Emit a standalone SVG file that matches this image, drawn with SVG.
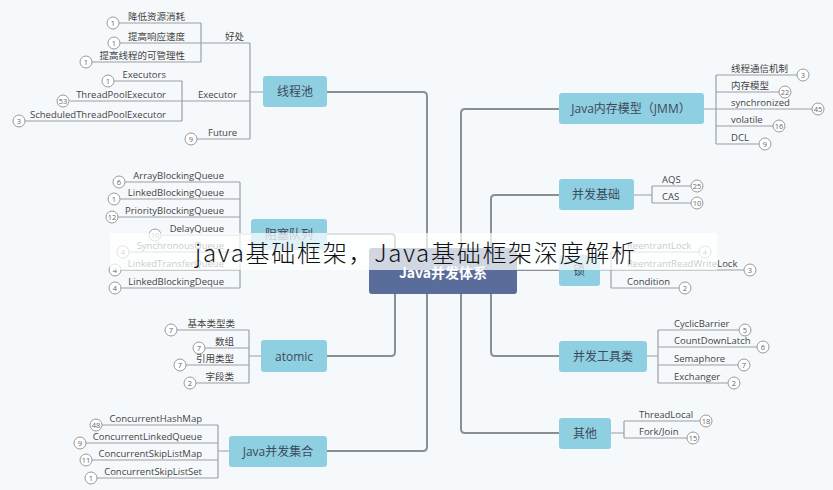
<svg xmlns="http://www.w3.org/2000/svg" width="833" height="490" viewBox="0 0 833 490">
<style>
.bg{fill:#f6f9fb}
.n rect{fill:#8fcfe2;rx:3px}
.n text{font-family:"Open Sans","Noto Sans CJK SC",sans-serif;font-size:12px;fill:#3d4a5a;text-anchor:middle}
.c{fill:none;stroke:#8a8f96;stroke-width:2}
.s{fill:none;stroke:#9aa0a6;stroke-width:1.2}
.t{font-family:"Open Sans","Noto Sans CJK SC",sans-serif;font-size:9.5px;fill:#444}
.r{text-anchor:end}
.b circle{fill:#fff;stroke:#999;stroke-width:1}
.b text{font-family:"Open Sans",sans-serif;font-size:7.5px;fill:#666;text-anchor:middle}
</style>
<rect class="bg" width="833" height="490"/>
<g id="connectors">
<path class="c" d="M327,92 H423 Q427,92 427,96 V447 Q427,451 423,451 H327"/>
<path class="c" d="M369,270 H391 Q395,270 395,274 V352 Q395,356 391,356 H327 M395,270 V238 Q395,234 391,234 H327"/>
<path class="c" d="M517,270 H559"/>
<path class="c" d="M559,109 H465 Q461,109 461,113 V429 Q461,433 465,433 H559 M461,270 H517"/>
<path class="c" d="M559,195 H495 Q491,195 491,199 V352 Q491,356 495,356 H559 M491,270 H517"/>
<!-- 线程池 children -->
<path class="s" d="M263,92 H250 M250,43 V139 M250,43 H213 M250,101 H70 M250,139 H197"/>
<path class="s" d="M213,43 H201 M201,23 V62 M201,23 H119 M201,43 H120 M201,62 H92"/>
<path class="s" d="M182,81 V121 M182,81 H114 M182,121 H25"/>
<!-- 阻塞队列 -->
<path class="s" d="M251,234 H240 M240,182 V288 M240,182 H125 M240,199 H120 M240,217 H118 M240,235 H161 M240,252 H129 M240,270 H121 M240,288 H121"/>
<!-- atomic -->
<path class="s" d="M261,356 H249 M249,330 V383 M249,330 H177 M249,348 H205 M249,365 H186 M249,383 H196"/>
<!-- 集合 -->
<path class="s" d="M229,451 H218 M218,425 V478 M218,425 H102 M218,443 H86 M218,460 H92 M218,478 H97"/>
<!-- JMM -->
<path class="s" d="M704,109 H716 M716,75 V144 M716,75 H797 M716,92 H779 M716,109 H812 M716,126 H773 M716,144 H759"/>
<!-- 并发基础 -->
<path class="s" d="M634,195 H652 M652,186 V203 M652,186 H691 M652,203 H691"/>
<!-- 锁 -->
<path class="s" d="M600,270 H611 M611,252 V288 M611,252 H699 M611,270 H744 M611,288 H679"/>
<!-- 工具类 -->
<path class="s" d="M647,356 H658 M658,330 V383 M658,330 H739 M658,347 H757 M658,365 H738 M658,383 H728"/>
<!-- 其他 -->
<path class="s" d="M611,433 H624 M624,421 V438 M624,421 H700 M624,438 H687"/>
</g>
<g id="center"><rect x="369" y="248" width="148" height="46" rx="3" fill="#5a6d9a"/><text x="443" y="278" font-family="'Noto Sans CJK SC',sans-serif" font-size="14" font-weight="bold" fill="#fff" text-anchor="middle">Java并发体系</text></g>
<g id="n1" class="n"><rect x="263" y="76" width="64" height="31"/><text x="295" y="96">线程池</text></g>
<g id="n2" class="n"><rect x="251" y="219" width="76" height="31"/><text x="289" y="239">阻塞队列</text></g>
<g id="n3" class="n"><rect x="261" y="340" width="66" height="32"/><text x="294" y="361">atomic</text></g>
<g id="n4" class="n"><rect x="229" y="436" width="98" height="31"/><text x="278" y="456">Java并发集合</text></g>
<g id="n5" class="n"><rect x="559" y="93" width="145" height="31"/><text x="631" y="113">Java内存模型（JMM）</text></g>
<g id="n6" class="n"><rect x="559" y="179" width="75" height="31"/><text x="596" y="199">并发基础</text></g>
<g id="n7" class="n"><rect x="559" y="255" width="41" height="31"/><text x="579" y="275">锁</text></g>
<g id="n8" class="n"><rect x="559" y="341" width="88" height="31"/><text x="603" y="361">并发工具类</text></g>
<g id="n9" class="n"><rect x="559" y="418" width="52" height="31"/><text x="585" y="438">其他</text></g>
<g id="labels">
<text class="t" x="225" y="40">好处</text>
<text class="t r" x="185" y="20">降低资源消耗</text>
<text class="t r" x="185" y="40">提高响应速度</text>
<text class="t r" x="185" y="59">提高线程的可管理性</text>
<text class="t" x="198" y="98">Executor</text>
<text class="t r" x="166" y="78">Executors</text>
<text class="t r" x="166" y="98">ThreadPoolExecutor</text>
<text class="t r" x="166" y="118">ScheduledThreadPoolExecutor</text>
<text class="t" x="208" y="136">Future</text>
<text class="t r" x="224" y="179">ArrayBlockingQueue</text>
<text class="t r" x="224" y="196">LinkedBlockingQueue</text>
<text class="t r" x="224" y="214">PriorityBlockingQueue</text>
<text class="t r" x="224" y="232">DelayQueue</text>
<text class="t r" x="224" y="249">SynchronousQueue</text>
<text class="t r" x="224" y="267">LinkedTransferQueue</text>
<text class="t r" x="224" y="285">LinkedBlockingDeque</text>
<text class="t r" x="235" y="327">基本类型类</text>
<text class="t r" x="234" y="345">数组</text>
<text class="t r" x="234" y="362">引用类型</text>
<text class="t r" x="234" y="380">字段类</text>
<text class="t r" x="202" y="422">ConcurrentHashMap</text>
<text class="t r" x="202" y="440">ConcurrentLinkedQueue</text>
<text class="t r" x="202" y="457">ConcurrentSkipListMap</text>
<text class="t r" x="202" y="475">ConcurrentSkipListSet</text>
<text class="t" x="731" y="72">线程通信机制</text>
<text class="t" x="731" y="89">内存模型</text>
<text class="t" x="731" y="106">synchronized</text>
<text class="t" x="731" y="123">volatile</text>
<text class="t" x="731" y="141">DCL</text>
<text class="t" x="662" y="183">AQS</text>
<text class="t" x="662" y="200">CAS</text>
<text class="t" x="627" y="249">ReentrantLock</text>
<text class="t" x="627" y="267">ReentrantReadWriteLock</text>
<text class="t" x="627" y="285">Condition</text>
<text class="t" x="674" y="327">CyclicBarrier</text>
<text class="t" x="674" y="344">CountDownLatch</text>
<text class="t" x="674" y="362">Semaphore</text>
<text class="t" x="674" y="380">Exchanger</text>
<text class="t" x="639" y="418">ThreadLocal</text>
<text class="t" x="639" y="435">Fork/Join</text>
</g>
<g id="badges" class="b">
<circle cx="113" cy="23" r="6"/><text x="113" y="26">1</text>
<circle cx="114" cy="43" r="6"/><text x="114" y="46">1</text>
<circle cx="86" cy="62" r="6"/><text x="86" y="65">1</text>
<circle cx="108" cy="81" r="6"/><text x="108" y="84">1</text>
<circle cx="63" cy="101" r="6"/><text x="63" y="104">53</text>
<circle cx="19" cy="121" r="6"/><text x="19" y="124">3</text>
<circle cx="191" cy="139" r="6"/><text x="191" y="142">9</text>
<circle cx="119" cy="182" r="6"/><text x="119" y="185">6</text>
<circle cx="114" cy="199" r="6"/><text x="114" y="202">1</text>
<circle cx="112" cy="217" r="6"/><text x="112" y="220">12</text>
<circle cx="155" cy="235" r="6"/><text x="155" y="238">10</text>
<circle cx="123" cy="252" r="6"/><text x="123" y="255">4</text>
<circle cx="115" cy="270" r="6"/><text x="115" y="273">4</text>
<circle cx="115" cy="288" r="6"/><text x="115" y="291">4</text>
<circle cx="171" cy="330" r="6"/><text x="171" y="333">7</text>
<circle cx="199" cy="348" r="6"/><text x="199" y="351">7</text>
<circle cx="180" cy="365" r="6"/><text x="180" y="368">7</text>
<circle cx="190" cy="383" r="6"/><text x="190" y="386">2</text>
<circle cx="96" cy="425" r="6"/><text x="96" y="428">48</text>
<circle cx="80" cy="443" r="6"/><text x="80" y="446">9</text>
<circle cx="86" cy="460" r="6"/><text x="86" y="463">11</text>
<circle cx="91" cy="478" r="6"/><text x="91" y="481">1</text>
<circle cx="803" cy="75" r="6"/><text x="803" y="78">3</text>
<circle cx="785" cy="92" r="6"/><text x="785" y="95">22</text>
<circle cx="818" cy="109" r="6"/><text x="818" y="112">45</text>
<circle cx="779" cy="126" r="6"/><text x="779" y="129">16</text>
<circle cx="765" cy="144" r="6"/><text x="765" y="147">9</text>
<circle cx="697" cy="186" r="6"/><text x="697" y="189">25</text>
<circle cx="697" cy="203" r="6"/><text x="697" y="206">10</text>
<circle cx="705" cy="252" r="6"/><text x="705" y="255">4</text>
<circle cx="750" cy="270" r="6"/><text x="750" y="273">3</text>
<circle cx="685" cy="288" r="6"/><text x="685" y="291">2</text>
<circle cx="745" cy="330" r="6"/><text x="745" y="333">5</text>
<circle cx="763" cy="347" r="6"/><text x="763" y="350">6</text>
<circle cx="744" cy="365" r="6"/><text x="744" y="368">7</text>
<circle cx="734" cy="383" r="6"/><text x="734" y="386">2</text>
<circle cx="706" cy="421" r="6"/><text x="706" y="424">18</text>
<circle cx="693" cy="438" r="6"/><text x="693" y="441">15</text>
</g>
<g id="overlay">
<rect x="110" y="233" width="607" height="37" fill="#fff" fill-opacity="0.72"/>
<text x="195" y="262" font-family="'Noto Sans CJK SC',sans-serif" font-weight="300" font-size="24" fill="#111" textLength="440">java基础框架，Java基础框架深度解析</text>
</g>
</svg>
